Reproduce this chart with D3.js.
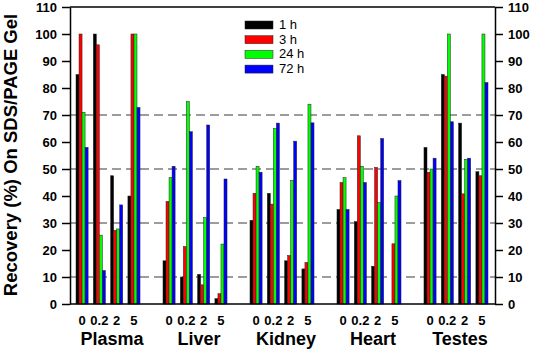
<!DOCTYPE html>
<html>
<head>
<meta charset="utf-8">
<script src="https://cdn.jsdelivr.net/npm/d3@7"></script>
<style>
  body { margin: 0; background: #fff; }
  svg text { font-family: Arial, "Liberation Sans", sans-serif; }
</style>
</head>
<body>
<svg id="chart" width="536" height="351"></svg>
<script>
// categories
const organs = ['Plasma', 'Liver', 'Kidney', 'Heart', 'Testes'];
const doses = ['0', '0.2', '2', '5'];
const times = ['1 h', '3 h', '24 h', '72 h'];
const yTicks = [0, 10, 20, 30, 40, 50, 60, 70, 80, 90, 100, 110];
const gridValues = [10, 30, 50, 70];

// recovery (%) per time point, organ by organ, dose 0 / 0.2 / 2 / 5
const h1  = [85, 100, 47.5, 40,   16, 10, 11, 2,      31, 41, 16, 13,      35, 30.5, 14, 0,       58, 85, 67, 49];
const h3  = [100, 96, 27.3, 100,  38, 21.3, 7.1, 3.8, 41, 37, 18, 15.4,    45, 62.3, 50.6, 22.3,  48.8, 84.4, 40.8, 47.5];
const h24 = [71, 25.5, 27.8, 100, 46.8, 75, 32, 22.2, 51, 65, 45.8, 74,    46.8, 51, 37.6, 40,    50, 100, 53.6, 100];
const h72 = [58, 12.4, 36.7, 72.8, 51, 63.8, 66.3, 46.3, 48.8, 67, 60.3, 67.1, 35, 45, 61.3, 45.7, 54, 67.5, 54, 82];
const series = [h1, h3, h24, h72];
const colors = ['#000000', '#ff0000', '#00ff00', '#0000ff'];

const plotLeft = 70, plotRight = 495, plotTop = 7, plotBottom = 304;
const svg = d3.select('#chart');

const y = d3.scaleLinear().domain([0, 110]).range([plotBottom, plotTop]);

const xOrgan = d3.scaleBand()
    .domain(organs)
    .range([76, 488])
    .paddingInner(0.264);

const xDose = d3.scaleBand()
    .domain(doses)
    .range([0, xOrgan.bandwidth()])
    .paddingInner(0.3);

const xTime = d3.scaleBand()
    .domain(times)
    .range([0, xDose.bandwidth()]);

const color = d3.scaleOrdinal().domain(times).range(colors);

// dashed grid lines
svg.append('g')
    .selectAll('line')
    .data(gridValues)
    .join('line')
    .attr('x1', plotLeft)
    .attr('x2', plotRight)
    .attr('y1', d => y(d))
    .attr('y2', d => y(d))
    .attr('stroke', '#3a3a3a')
    .attr('stroke-width', 1.2)
    .attr('stroke-dasharray', '9,5');

// bars
let barData = [];
organs.forEach((o, oi) => {
    doses.forEach((d, di) => {
        times.forEach((t, ti) => {
            barData.push({organ: o, dose: d, time: t, value: series[ti][oi * doses.length + di]});
        });
    });
});

svg.append('g')
    .selectAll('rect')
    .data(barData.filter(d => d.value > 0))
    .join('rect')
    .attr('x', d => xOrgan(d.organ) + xDose(d.dose) + xTime(d.time))
    .attr('y', d => y(d.value))
    .attr('width', xTime.bandwidth())
    .attr('height', d => y(0) - y(d.value))
    .attr('fill', d => color(d.time))
    .attr('stroke', '#222')
    .attr('stroke-width', 0.5);

// frame
svg.append('line')
    .attr('x1', plotLeft).attr('x2', plotRight)
    .attr('y1', plotTop).attr('y2', plotTop)
    .attr('stroke', '#000').attr('stroke-width', 1.5);
svg.append('line')
    .attr('x1', plotLeft).attr('x2', plotRight)
    .attr('y1', plotBottom).attr('y2', plotBottom)
    .attr('stroke', '#000').attr('stroke-width', 1.5);

// axes
const axisL = svg.append('g')
    .attr('transform', `translate(${plotLeft},0)`)
    .call(d3.axisLeft(y).tickValues(yTicks).tickSize(8).tickSizeOuter(0).tickPadding(5));
const axisR = svg.append('g')
    .attr('transform', `translate(${plotRight},0)`)
    .call(d3.axisRight(y).tickValues(yTicks).tickSize(8).tickSizeOuter(0).tickPadding(5));

[axisL, axisR].forEach(a => {
    a.select('.domain').attr('stroke-width', 1.5);
    a.selectAll('.tick line').attr('stroke-width', 1.5);
    a.selectAll('text')
        .attr('font-size', 13)
        .attr('font-weight', 'bold')
        .attr('font-family', 'Arial, "Liberation Sans", sans-serif')
        .attr('fill', '#000');
});

// dose labels
svg.append('g')
    .selectAll('text')
    .data(organs.flatMap(o => doses.map(d => ({organ: o, dose: d}))))
    .join('text')
    .attr('x', d => xOrgan(d.organ) + xDose(d.dose) + xDose.bandwidth() / 2)
    .attr('y', 325)
    .attr('text-anchor', 'middle')
    .attr('font-size', 13)
    .attr('font-weight', 'bold')
    .text(d => d.dose);

// organ labels
svg.append('g')
    .selectAll('text')
    .data(organs)
    .join('text')
    .attr('x', d => xOrgan(d) + xOrgan.bandwidth() / 2 + 4)
    .attr('y', 345)
    .attr('text-anchor', 'middle')
    .attr('font-size', 18)
    .attr('font-weight', 'bold')
    .text(d => d);

// y axis title
svg.append('text')
    .attr('transform', 'translate(17,155) rotate(-90)')
    .attr('text-anchor', 'middle')
    .attr('font-size', 18.5)
    .attr('font-weight', 'bold')
    .text('Recovery (%) On SDS/PAGE Gel');

// legend
const legend = svg.append('g')
    .selectAll('g')
    .data(times)
    .join('g')
    .attr('transform', (d, i) => `translate(245,${21 + i * 14.7})`);

legend.append('rect')
    .attr('width', 28)
    .attr('height', 8)
    .attr('fill', d => color(d))
    .attr('stroke', '#222')
    .attr('stroke-width', 0.5);

legend.append('text')
    .attr('x', 34)
    .attr('y', 8)
    .attr('font-size', 13)
    .text(d => d);
</script>
</body>
</html>
